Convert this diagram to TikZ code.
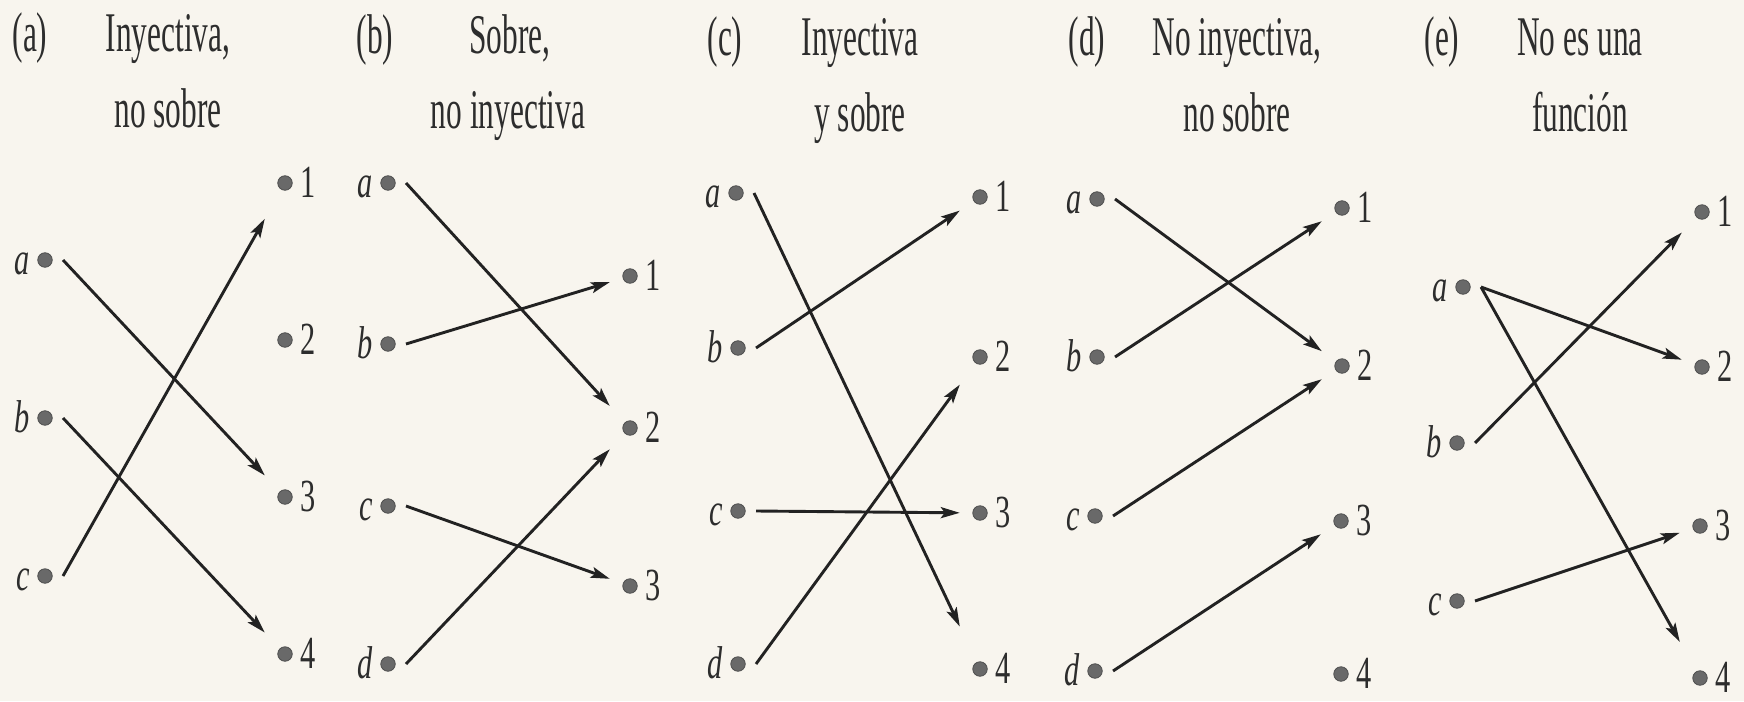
\documentclass[tikz,border=0pt]{standalone}
\usepackage{fontspec}
\setmainfont{Liberation Serif}
\newfontfamily\condfont[FakeStretch=0.56]{Liberation Serif}
\newfontfamily\lblfont[FakeStretch=0.66]{Liberation Serif}
\usetikzlibrary{arrows.meta}
\definecolor{paper}{RGB}{248,245,238}
\definecolor{ink}{RGB}{34,34,34}
\definecolor{txt}{RGB}{45,45,45}
\definecolor{dotc}{RGB}{105,105,105}
\tikzset{
  pt/.style={circle,fill=dotc,draw=dotc!75!black,line width=0.8pt,inner sep=0pt,minimum size=14.5pt},
  tgt/.style={rectangle,draw=none,inner sep=0pt,minimum width=40pt,minimum height=120pt},
  ttl/.style={font=\condfont\fontsize{56}{64}\selectfont,text=txt,anchor=base,inner sep=0pt},
  lbl/.style={font=\lblfont\fontsize{46}{52}\selectfont,text=txt,inner sep=0pt},
  arr/.style={draw=ink,line width=2.9pt,-{Stealth[length=19pt,width=11pt,inset=4pt]}},
}
\newcommand\srcdot[4]{\node[pt] (#1) at (#2,#3) {};
  \node[lbl,anchor=base east] (#1-l) at ([shift={(-15,14)}]#1.center) {\itshape #4};}
\newcommand\dstdot[4]{\node[pt] (#1) at (#2,#3) {};
  \node[tgt] (#1-t) at (#1) {};
  \node[lbl,anchor=base west] (#1-l) at ([shift={(15,14)}]#1.center) {#4};}
\newcommand\conn[2]{\draw[arr] ([xshift=18pt]#1.center) -- (#2-t);}
\begin{document}
\begin{tikzpicture}[x=1pt,y=-1pt]
\fill[paper] (0,0) rectangle (1744,701);
\useasboundingbox (0,0) rectangle (1744,701);

% ---------- (a)
\node[ttl] (ta0) at (30,52) {(a)};
\node[ttl] (ta1) at (168,52) {Inyectiva,};
\node[ttl] (ta2) at (168,127) {no sobre};
\srcdot{pa-a}{45}{260}{a}
\srcdot{pa-b}{45}{418}{b}
\srcdot{pa-c}{45}{576}{c}
\dstdot{pa-1}{285}{183}{1}
\dstdot{pa-2}{285}{340}{2}
\dstdot{pa-3}{285}{497}{3}
\dstdot{pa-4}{285}{654}{4}
\conn{pa-a}{pa-3}
\conn{pa-b}{pa-4}
\conn{pa-c}{pa-1}

% ---------- (b)
\node[ttl] (tb0) at (375,53) {(b)};
\node[ttl] (tb1) at (510,53) {Sobre,};
\node[ttl] (tb2) at (508,128) {no inyectiva};
\srcdot{pb-a}{388}{183}{a}
\srcdot{pb-b}{388}{344}{b}
\srcdot{pb-c}{388}{506}{c}
\srcdot{pb-d}{388}{664}{d}
\dstdot{pb-1}{630}{276}{1}
\dstdot{pb-2}{630}{428}{2}
\dstdot{pb-3}{630}{586}{3}
\conn{pb-a}{pb-2}
\conn{pb-b}{pb-1}
\conn{pb-c}{pb-3}
\conn{pb-d}{pb-2}

% ---------- (c)
\node[ttl] (tc0) at (725,56) {(c)};
\node[ttl] (tc1) at (860,56) {Inyectiva};
\node[ttl] (tc2) at (860,131) {y sobre};
\srcdot{pc-a}{736}{193}{a}
\srcdot{pc-b}{738}{348}{b}
\srcdot{pc-c}{738}{511}{c}
\srcdot{pc-d}{738}{664}{d}
\dstdot{pc-1}{980}{197}{1}
\dstdot{pc-2}{980}{357}{2}
\dstdot{pc-3}{980}{513}{3}
\dstdot{pc-4}{980}{669}{4}
\conn{pc-a}{pc-4}
\conn{pc-b}{pc-1}
\conn{pc-c}{pc-3}
\conn{pc-d}{pc-2}

% ---------- (d)
\node[ttl] (td0) at (1087,56) {(d)};
\node[ttl] (td1) at (1237,56) {No inyectiva,};
\node[ttl] (td2) at (1237,131) {no sobre};
\srcdot{pd-a}{1097}{199}{a}
\srcdot{pd-b}{1097}{357}{b}
\srcdot{pd-c}{1095}{516}{c}
\srcdot{pd-d}{1095}{671}{d}
\dstdot{pd-1}{1342}{208}{1}
\dstdot{pd-2}{1342}{366}{2}
\dstdot{pd-3}{1341}{521}{3}
\dstdot{pd-4}{1341}{674}{4}
\conn{pd-a}{pd-2}
\conn{pd-b}{pd-1}
\conn{pd-c}{pd-2}
\conn{pd-d}{pd-3}

% ---------- (e)
\node[ttl] (te0) at (1442,56) {(e)};
\node[ttl] (te1) at (1580,56) {No es una};
\node[ttl] (te2) at (1580,131) {función};
\srcdot{pe-a}{1463}{287}{a}
\srcdot{pe-b}{1457}{443}{b}
\srcdot{pe-c}{1457}{601}{c}
\dstdot{pe-1}{1702}{212}{1}
\dstdot{pe-2}{1702}{367}{2}
\dstdot{pe-3}{1700}{526}{3}
\dstdot{pe-4}{1700}{678}{4}
\conn{pe-a}{pe-2}
\conn{pe-a}{pe-4}
\conn{pe-b}{pe-1}
\conn{pe-c}{pe-3}
\end{tikzpicture}
\end{document}
